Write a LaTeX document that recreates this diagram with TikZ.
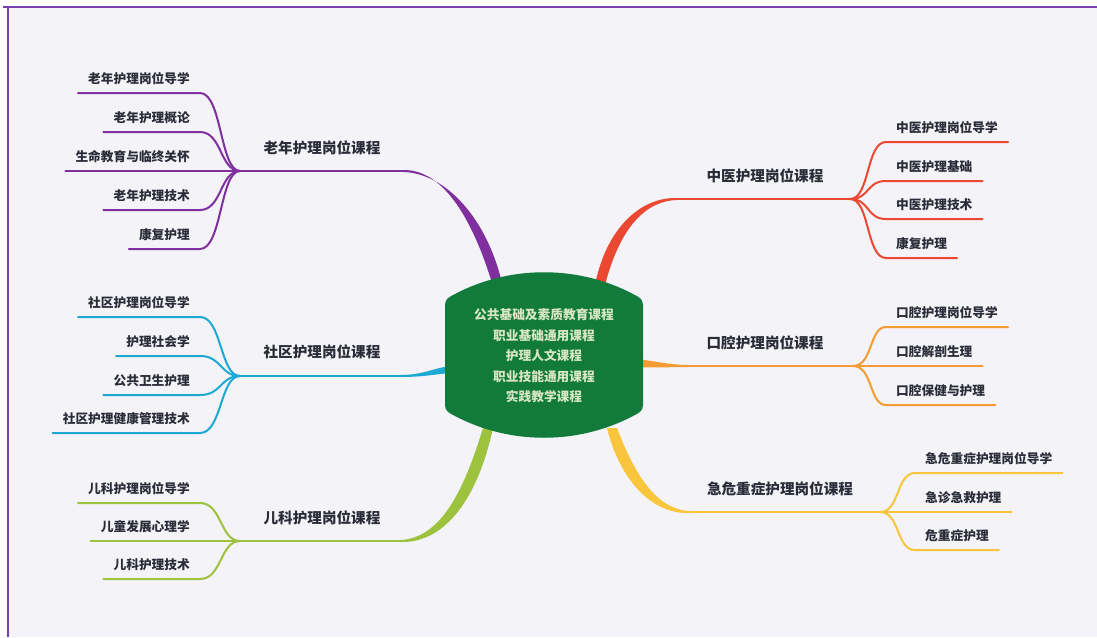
\documentclass[tikz,border=0pt]{standalone}
\usepackage{fontspec}
\newfontfamily\cjk{Noto Sans CJK SC}
\usetikzlibrary{positioning}
\definecolor{bgc}{HTML}{F4F3F8}
\definecolor{framec}{HTML}{7A3FB3}
\definecolor{purp}{HTML}{80309E}
\definecolor{sky}{HTML}{1CA9D2}
\definecolor{lime}{HTML}{9CC23E}
\definecolor{tomato}{HTML}{EB4831}
\definecolor{amber}{HTML}{F59B33}
\definecolor{gold}{HTML}{F9C53C}
\definecolor{corefill}{HTML}{127B3C}
\definecolor{coretext}{HTML}{D8E6C6}
\definecolor{ink}{HTML}{2A2D38}
\tikzset{
	leafL/.style={anchor=south east, inner xsep=10pt, inner ysep=8pt, text height=10.5pt, text depth=0.9pt,
		font=\cjk\bfseries\fontsize{12.7}{15}\selectfont, text=ink},
	leafR/.style={leafL, anchor=south west},
	topic/.style={inner sep=0pt, text height=12.1pt, text depth=1pt,
		font=\cjk\bfseries\fontsize{14.6}{17}\selectfont, text=ink},
	coretxt/.style={align=center, inner sep=0pt, text=coretext,
		font=\cjk\bfseries\fontsize{12.7}{20.5}\selectfont},
	twig/.style={line width=2pt, line cap=round},
}

\begin{document}
\begin{tikzpicture}[x=1pt, y=-1pt]

	\useasboundingbox (0,0) rectangle (1097,637);
	\fill[white] (0,0) rectangle (1097,637);
	\fill[bgc] (8,7) rectangle (1097,637);
	\draw[framec, line width=2pt] (3,7) -- (1097,7);
	\draw[framec, line width=2pt] (8,7) -- (8,637);

	% left side
	\coordinate (oldhub) at (240,171);
	\coordinate (oldroot) at (403,171);
	\coordinate (oldbase) at (497,283);
	\node[topic] (oldtopic) at (322,148) {老年护理岗位课程};
	\node[leafL] (old1) at (200,93) {老年护理岗位导学};
	\node[leafL] (old2) at (200,132) {老年护理概论};
	\node[leafL] (old3) at (200,171) {生命教育与临终关怀};
	\node[leafL] (old4) at (200,210) {老年护理技术};
	\node[leafL] (old5) at (200,249) {康复护理};
	\fill[purp] ([yshift=1pt]oldroot) .. controls (445,169) and (474,224) .. ([xshift=-5pt]oldbase)
		-- ([xshift=5pt]oldbase) .. controls (487,219) and (446,173) .. ([yshift=-1pt]oldroot) -- cycle;
	\draw[twig, purp] (oldhub) -- (oldroot);
	\draw[twig, purp] (oldhub) .. controls (220,171) and (222,93) .. (old1.south east) -- (old1.south west);
	\draw[twig, purp] (oldhub) .. controls (220,171) and (222,132) .. (old2.south east) -- (old2.south west);
	\draw[twig, purp] (oldhub) -- (old3.south west);
	\draw[twig, purp] (oldhub) .. controls (220,171) and (222,210) .. (old4.south east) -- (old4.south west);
	\draw[twig, purp] (oldhub) .. controls (220,171) and (222,249) .. (old5.south east) -- (old5.south west);

	\coordinate (comhub) at (240,376);
	\coordinate (comroot) at (400,376);
	\coordinate (combase) at (452,370);
	\node[topic] (comtopic) at (322,352) {社区护理岗位课程};
	\node[leafL] (com1) at (200,317) {社区护理岗位导学};
	\node[leafL] (com2) at (200,356) {护理社会学};
	\node[leafL] (com3) at (200,395) {公共卫生护理};
	\node[leafL] (com4) at (200,433) {社区护理健康管理技术};
	\fill[sky] ([yshift=1pt]comroot) .. controls (425,375) and (435,367) .. ([yshift=4pt]combase)
		-- ([yshift=-3pt]combase) .. controls (435,374) and (425,377) .. ([yshift=-1pt]comroot) -- cycle;
	\draw[twig, sky] (comhub) -- (comroot);
	\draw[twig, sky] (comhub) .. controls (220,376) and (222,317) .. (com1.south east) -- (com1.south west);
	\draw[twig, sky] (comhub) .. controls (220,376) and (222,356) .. (com2.south east) -- (com2.south west);
	\draw[twig, sky] (comhub) .. controls (220,376) and (222,395) .. (com3.south east) -- (com3.south west);
	\draw[twig, sky] (comhub) .. controls (220,376) and (222,433) .. (com4.south east) -- (com4.south west);

	\coordinate (kidhub) at (240,541);
	\coordinate (kidroot) at (400,541);
	\coordinate (kidbase) at (488,428);
	\node[topic] (kidtopic) at (322,518) {儿科护理岗位课程};
	\node[leafL] (kid1) at (200,503) {儿科护理岗位导学};
	\node[leafL] (kid2) at (200,541) {儿童发展心理学};
	\node[leafL] (kid3) at (200,579) {儿科护理技术};
	\fill[lime] ([yshift=-1pt]kidroot) .. controls (448,543.5) and (479,493) .. ([xshift=5pt]kidbase)
		-- ([xshift=-5pt]kidbase) .. controls (465,487) and (442,538.5) .. ([yshift=1pt]kidroot) -- cycle;
	\draw[twig, lime] (kidhub) -- (kidroot);
	\draw[twig, lime] (kidhub) .. controls (220,541) and (222,503) .. (kid1.south east) -- (kid1.south west);
	\draw[twig, lime] (kidhub) -- (kid2.south west);
	\draw[twig, lime] (kidhub) .. controls (220,541) and (222,579) .. (kid3.south east) -- (kid3.south west);

	% right side
	\coordinate (tcmhub) at (850,199);
	\coordinate (tcmroot) at (677,199);
	\coordinate (tcmbase) at (600,285);
	\node[topic] (tcmtopic) at (765,176) {中医护理岗位课程};
	\node[leafR] (tcm1) at (886,142) {中医护理岗位导学};
	\node[leafR] (tcm2) at (886,181) {中医护理基础};
	\node[leafR] (tcm3) at (886,219) {中医护理技术};
	\node[leafR] (tcm4) at (886,258) {康复护理};
	\fill[tomato] ([yshift=1pt]tcmroot) .. controls (640,197) and (606,229) .. ([xshift=-5pt]tcmbase)
		-- ([xshift=5pt]tcmbase) .. controls (618,235) and (641,201) .. ([yshift=-1pt]tcmroot) -- cycle;
	\draw[twig, tomato] (tcmroot) -- (tcmhub);
	\draw[twig, tomato] (tcmhub) .. controls (870,199) and (866,142) .. (tcm1.south west) -- (tcm1.south east);
	\draw[twig, tomato] (tcmhub) .. controls (870,199) and (866,181) .. (tcm2.south west) -- (tcm2.south east);
	\draw[twig, tomato] (tcmhub) .. controls (870,199) and (866,219) .. (tcm3.south west) -- (tcm3.south east);
	\draw[twig, tomato] (tcmhub) .. controls (870,199) and (866,258) .. (tcm4.south west) -- (tcm4.south east);

	\coordinate (orahub) at (853,366);
	\coordinate (oraroot) at (688,366);
	\coordinate (orabase) at (636,363);
	\node[topic] (oratopic) at (765,343) {口腔护理岗位课程};
	\node[leafR] (ora1) at (886,327) {口腔护理岗位导学};
	\node[leafR] (ora2) at (886,366) {口腔解剖生理};
	\node[leafR] (ora3) at (886,405) {口腔保健与护理};
	\fill[amber] ([yshift=1pt]oraroot) .. controls (670,365) and (655,361) .. ([yshift=4pt]orabase)
		-- ([yshift=-4pt]orabase) .. controls (655,368) and (670,367) .. ([yshift=-1pt]oraroot) -- cycle;
	\draw[twig, amber] (oraroot) -- (orahub);
	\draw[twig, amber] (orahub) .. controls (873,366) and (869,327) .. (ora1.south west) -- (ora1.south east);
	\draw[twig, amber] (orahub) -- (ora2.south east);
	\draw[twig, amber] (orahub) .. controls (873,366) and (869,405) .. (ora3.south west) -- (ora3.south east);

	\coordinate (emghub) at (880,512);
	\coordinate (emgroot) at (690,512);
	\coordinate (emgbase) at (612,428);
	\node[topic] (emgtopic) at (780,489) {急危重症护理岗位课程};
	\node[leafR] (emg1) at (915,473) {急危重症护理岗位导学};
	\node[leafR] (emg2) at (915,512) {急诊急救护理};
	\node[leafR] (emg3) at (915,550) {危重症护理};
	\fill[gold] ([yshift=-1pt]emgroot) .. controls (647,514.5) and (618,473) .. ([xshift=-5pt]emgbase)
		-- ([xshift=5pt]emgbase) .. controls (632,467) and (653,509.5) .. ([yshift=1pt]emgroot) -- cycle;
	\draw[twig, gold] (emgroot) -- (emghub);
	\draw[twig, gold] (emghub) .. controls (900,512) and (896,473) .. (emg1.south west) -- (emg1.south east);
	\draw[twig, gold] (emghub) -- (emg2.south east);
	\draw[twig, gold] (emghub) .. controls (900,512) and (896,550) .. (emg3.south west) -- (emg3.south east);

	% centre
	\fill[corefill] (445,405) -- (445,305) .. controls (445,299) and (449,297) .. (455,294)
		.. controls (510,265) and (578,265) .. (633,294) .. controls (639,297) and (643,299) .. (643,305)
		-- (643,405) .. controls (643,411) and (639,413) .. (633,416)
		.. controls (578,445) and (510,445) .. (455,416) .. controls (449,413) and (445,411) .. (445,405) -- cycle;
	\node[coretxt] (core) at (544,356) {公共基础及素质教育课程\\职业基础通用课程\\护理人文课程\\职业技能通用课程\\实践教学课程};

\end{tikzpicture}
\end{document}
